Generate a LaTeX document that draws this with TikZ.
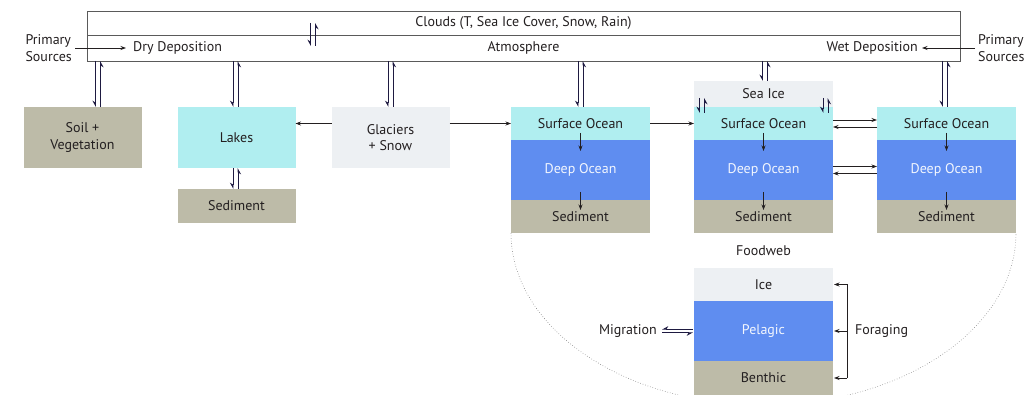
\documentclass[tikz,border=0pt]{standalone}
\usepackage{fontspec}
\setmainfont{PT Sans}
\usetikzlibrary{arrows.meta,positioning}
\definecolor{soiltan}{HTML}{BDBBA8}
\definecolor{lakecyan}{HTML}{B0EEF0}
\definecolor{deepblue}{HTML}{5F8DF0}
\definecolor{icegray}{HTML}{EDF0F3}
\definecolor{inkgray}{HTML}{231F20}
\definecolor{framegray}{HTML}{5A5A5A}

\begin{document}
\begin{tikzpicture}[
  x=1pt, y=-1pt,
  font=\fontsize{14}{16.5}\selectfont,
  text=inkgray,
  band/.style={
    draw=framegray,
    line width=0.8pt,
    minimum width=873pt,
    inner sep=0pt,
    outer sep=0pt
  },
  tag/.style={inner sep=1pt},
  box/.style={
    minimum width=118pt,
    minimum height=61pt,
    inner sep=0pt,
    outer sep=0pt,
    align=center
  },
  layer/.style={
    minimum width=139pt,
    inner sep=0pt,
    outer sep=0pt
  },
  connector/.style={
    -{Stealth[length=5.5pt,width=4pt]},
    draw=inkgray,
    line width=0.7pt
  },
  harp/.style={
    -{Stealth[harpoon,swap,length=5.5pt,width=6pt]},
    draw=inkgray!85!blue,
    line width=0.8pt
  },
  rim/.style={
    dotted,
    draw=gray,
    line width=0.6pt
  }
]
\useasboundingbox (0,0) rectangle (1033,395);

% atmosphere
\node[band, minimum height=24pt] (clouds) at (523.5,23) {Clouds (T, Sea Ice Cover, Snow, Rain)};
\node[band, minimum height=26pt, below=0pt of clouds] (atmo) {Atmosphere};
\node[tag, anchor=west] (dry) at ([xshift=45pt]atmo.west) {Dry Deposition};
\node[tag, anchor=east] (wet) at ([xshift=-41pt]atmo.east) {Wet Deposition};
\node[tag, align=left, anchor=east] (srcL) at (73,48) {Primary\\Sources};
\node[tag, align=left, anchor=west] (srcR) at (977,48) {Primary\\Sources};
\coordinate (cpair) at (313,35);

% land
\node[box, fill=soiltan] (soil) at (82.5,137.5) {Soil +\\Vegetation};
\node[box, fill=lakecyan, right=36pt of soil] (lakes) {Lakes};
\node[box, fill=soiltan, minimum height=34pt, below=21pt of lakes] (lakesed) {Sediment};
\node[box, fill=icegray, right=36pt of lakes] (glaciers) {Glaciers\\+ Snow};

% ocean columns
\node[layer, fill=lakecyan, minimum height=33pt] (surf1) at (580.5,123.5) {Surface Ocean};
\node[layer, fill=deepblue, text=white!92!deepblue, minimum height=60pt, below=0pt of surf1] (deep1) {Deep Ocean};
\node[layer, fill=soiltan, minimum height=33pt, below=0pt of deep1] (sed1) {Sediment};

\node[layer, fill=lakecyan, minimum height=33pt, right=44pt of surf1] (surf2) {Surface Ocean};
\node[layer, fill=icegray, minimum height=26pt, above=0pt of surf2] (seaice) {Sea Ice};
\node[layer, fill=deepblue, text=white!92!deepblue, minimum height=60pt, below=0pt of surf2] (deep2) {Deep Ocean};
\node[layer, fill=soiltan, minimum height=33pt, below=0pt of deep2] (sed2) {Sediment};

\node[layer, fill=lakecyan, minimum height=33pt, right=44pt of surf2] (surf3) {Surface Ocean};
\node[layer, fill=deepblue, text=white!92!deepblue, minimum height=60pt, below=0pt of surf3] (deep3) {Deep Ocean};
\node[layer, fill=soiltan, minimum height=33pt, below=0pt of deep3] (sed3) {Sediment};

% foodweb
\draw[rim] (sed1.south west) arc[start angle=180, end angle=0, x radius=252.5, y radius=172];
\node[tag] (foodweb) at (763.5,251) {Foodweb};
\node[layer, fill=icegray, minimum height=33pt] (ice) at (763.5,284.5) {Ice};
\node[layer, fill=deepblue, text=white!92!deepblue, minimum height=60pt, below=0pt of ice] (pelagic) {Pelagic};
\node[layer, fill=soiltan, minimum height=34pt, below=0pt of pelagic] (benthic) {Benthic};
\node[tag, anchor=east] (migration) at (658,331) {Migration};
\coordinate (fbar) at ([xshift=14pt]pelagic.east);
\node[tag, anchor=west] (foraging) at ([xshift=7pt]fbar) {Foraging};

% sources and lateral transport
\draw[connector, shorten <=2pt, shorten >=6pt] (srcL.east) -- (dry.west);
\draw[connector, shorten <=2pt, shorten >=3pt] (srcR.west) -- (wet.east);
\draw[connector] (glaciers.west |- surf1) -- (lakes.east |- surf1);
\draw[connector] (glaciers.east |- surf1) -- (surf1.west);
\draw[connector] (surf1.east) -- (surf2.west);
\draw[connector] ([yshift=3.5pt]surf2.east) -- ([yshift=3.5pt]surf3.west);
\draw[connector] ([yshift=-3.5pt]surf3.west) -- ([yshift=-3.5pt]surf2.east);
\draw[connector] ([yshift=3.5pt]deep2.east) -- ([yshift=3.5pt]deep3.west);
\draw[connector] ([yshift=-3.5pt]deep3.west) -- ([yshift=-3.5pt]deep2.east);

% vertical settling
\foreach \col in {1,2,3}{
  \draw[connector] ([yshift=-9.5pt]surf\col.center) -- ([yshift=-11pt]surf\col.south);
  \draw[connector] ([yshift=8pt]deep\col.south) -- ([yshift=-10pt]deep\col.south);
}

% two-way exchange
\foreach \dst/\dx in {soil/15.5, lakes/-1, glaciers/0, surf1/0, seaice/1.5, surf3/-1.5}{
  \draw[harp] ([xshift=\dx pt-2.5pt]\dst.north |- atmo.south) -- ([xshift=\dx pt-2.5pt]\dst.north);
  \draw[harp] ([xshift=\dx pt+2.5pt]\dst.north) -- ([xshift=\dx pt+2.5pt]\dst.north |- atmo.south);
}
\draw[harp] ([xshift=-3.5pt]lakes.south) -- ([xshift=-3.5pt]lakesed.north);
\draw[harp] ([xshift=1.5pt]lakesed.north) -- ([xshift=1.5pt]lakes.south);
\draw[harp] ([xshift=-2.5pt, yshift=12pt]cpair) -- ([xshift=-2.5pt, yshift=-11pt]cpair);
\draw[harp] ([xshift=2.5pt, yshift=-11pt]cpair) -- ([xshift=2.5pt, yshift=12pt]cpair);
\foreach \edge/\sx in {south west/8, south east/-7.5}{
  \draw[harp] ([xshift=\sx pt-2.5pt, yshift=9pt]seaice.\edge) -- ([xshift=\sx pt-2.5pt, yshift=-6pt]seaice.\edge);
  \draw[harp] ([xshift=\sx pt+2.5pt, yshift=-6pt]seaice.\edge) -- ([xshift=\sx pt+2.5pt, yshift=9pt]seaice.\edge);
}
\draw[harp, shorten <=1pt] ([yshift=1.8pt]pelagic.west) -- ([yshift=1.8pt, xshift=4pt]pelagic.west -| migration.east);
\draw[harp, shorten >=1pt] ([yshift=-1.8pt, xshift=4pt]pelagic.west -| migration.east) -- ([yshift=-1.8pt]pelagic.west);

% foraging
\draw[draw=inkgray, line width=0.7pt] (ice.east -| fbar) -- (benthic.east -| fbar);
\draw[connector, shorten >=1pt] (ice.east -| fbar) -- (ice.east);
\draw[connector, shorten >=1pt] (fbar) -- (pelagic.east);
\draw[connector, shorten >=1pt] (benthic.east -| fbar) -- (benthic.east);
\end{tikzpicture}
\end{document}
